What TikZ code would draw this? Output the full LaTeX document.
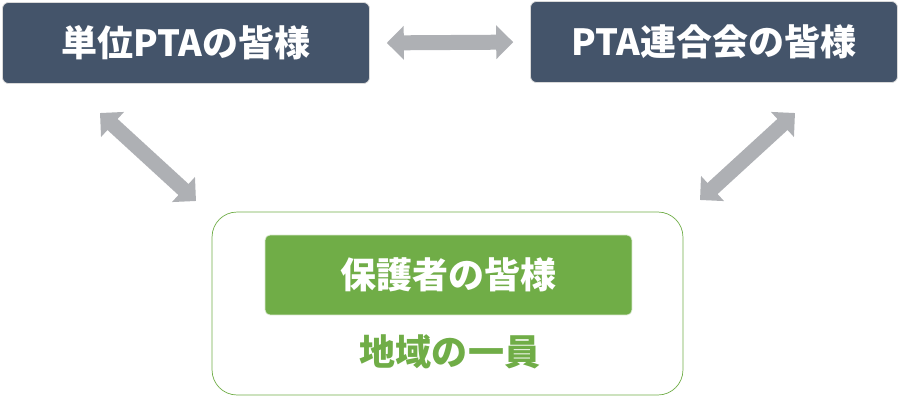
\documentclass[tikz,border=0pt]{standalone}
\usepackage{fontspec}
\newfontfamily\jpfont{Noto Sans CJK JP}
\usetikzlibrary{arrows.meta,positioning}
\definecolor{slate}{HTML}{44546A}
\definecolor{leaf}{HTML}{70AD47}
\definecolor{arrowgray}{HTML}{AEB0B4}

\begin{document}
\begin{tikzpicture}[x=0.02cm, y=-0.02cm,
  every node/.style={font=\jpfont\bfseries\fontsize{20.5}{24}\selectfont},
  topbox/.style={draw=gray!30, fill=slate, text=white, rounded corners=0.12cm,
    minimum width=7.34cm, minimum height=1.62cm},
  dblarrow/.style={draw=arrowgray, line width=0.3cm,
    {Triangle[length=0.34cm,width=0.66cm]}-{Triangle[length=0.34cm,width=0.66cm]}}]
  \useasboundingbox (0,0) rectangle (900,413);

  % top row
  \node[topbox] (tanni) at (186,43) {単位PTAの皆様};
  \node[topbox] (rengo) at (714,42) {PTA連合会の皆様};

  % parents
  \node[draw=leaf, fill=white, rounded corners=0.5cm,
    minimum width=9.42cm, minimum height=3.66cm] (chiiki) at (447.5,303.5) {};
  \node[draw=leaf!25, fill=leaf, text=white, rounded corners=0.1cm,
    minimum width=7.34cm, minimum height=1.6cm] (hogo) at (448.5,275) {保護者の皆様};
  \node[text=leaf] (ichiin) at (450,352) {地域の一員};

  % arrows
  \coordinate (lt) at (100,113);
  \coordinate (lb) at (196,201);
  \coordinate (rt) at (795,113);
  \coordinate (rb) at (700,200);
  \draw[dblarrow, shorten <=0.34cm, shorten >=0.34cm] (tanni.east) -- (rengo.west);
  \draw[dblarrow] (lt) -- (lb);
  \draw[dblarrow] (rt) -- (rb);
\end{tikzpicture}
\end{document}
